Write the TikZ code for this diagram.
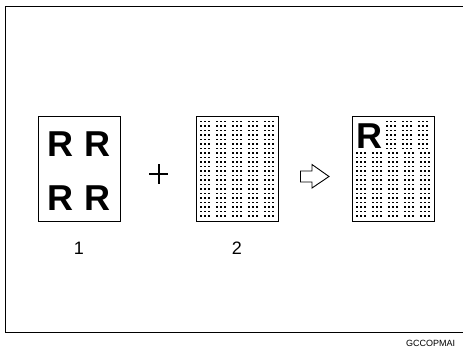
\documentclass[tikz,border=0pt]{standalone}
\usepackage{fontspec}
\setmainfont{Liberation Sans}
\usepackage{tikz}
\usetikzlibrary{arrows.meta,positioning}

\begin{document}
\begin{tikzpicture}[x=1pt,y=-1pt,
    sheet/.style={draw,line width=0.8pt,minimum width=82pt,minimum height=105pt,inner sep=0pt},
    bigR/.style={anchor=base,inner sep=0pt,font=\fontsize{36}{36}\selectfont\bfseries},
    dashrow/.style={line width=1.3pt,black,dash pattern=on 2.2pt off 1.8pt on 2.2pt off 1.8pt on 2.2pt off 5.8pt},
    numlabel/.style={font=\fontsize{18}{18}\selectfont}]
  \useasboundingbox (0,0) rectangle (463,350);
  \draw[line width=0.8pt] (480,6) -- (5.5,6) -- (5.5,332) -- (480,332);
  \node[sheet] (orig) at (79,168.5) {};
  \node[sheet] (screen) at (237,168.5) {};
  \node[sheet] (result) at (393.5,168.5) {};
  \node[bigR] (r1) at (60.5,157) {R};
  \node[bigR] (r2) at (97.5,157) {R};
  \node[bigR] (r3) at (60.5,210) {R};
  \node[bigR] (r4) at (97.5,210) {R};
  \node[bigR] (r5) at (369,149) {R};
  \foreach \r in {0,...,21}
    \draw[dashrow] (200,{121.5+4.5*\r}) -- (276,{121.5+4.5*\r});
  \foreach \r in {0,...,6}
    \draw[dashrow] (386,{121.5+4.5*\r}) -- (433,{121.5+4.5*\r});
  \foreach \r in {7,...,21}
    \draw[dashrow] (356,{121.5+4.5*\r}) -- (433,{121.5+4.5*\r});
  \node[numlabel] (n1) at (79,248) {1};
  \node[numlabel] (n2) at (237,248) {2};
  \draw[line width=2pt] (149,174) -- (168,174) (158.5,164) -- (158.5,184);
  \draw[line width=0.9pt,line join=miter] (300.5,171) -- (312,171) -- (312,164.5) -- (329,176.5)
    -- (312,188) -- (312,182) -- (300.5,182) -- cycle;
  \node[anchor=base west,inner sep=0pt,font=\fontsize{9}{9}\selectfont] (code) at (406,346) {GCCOPMAI};
\end{tikzpicture}
\end{document}
